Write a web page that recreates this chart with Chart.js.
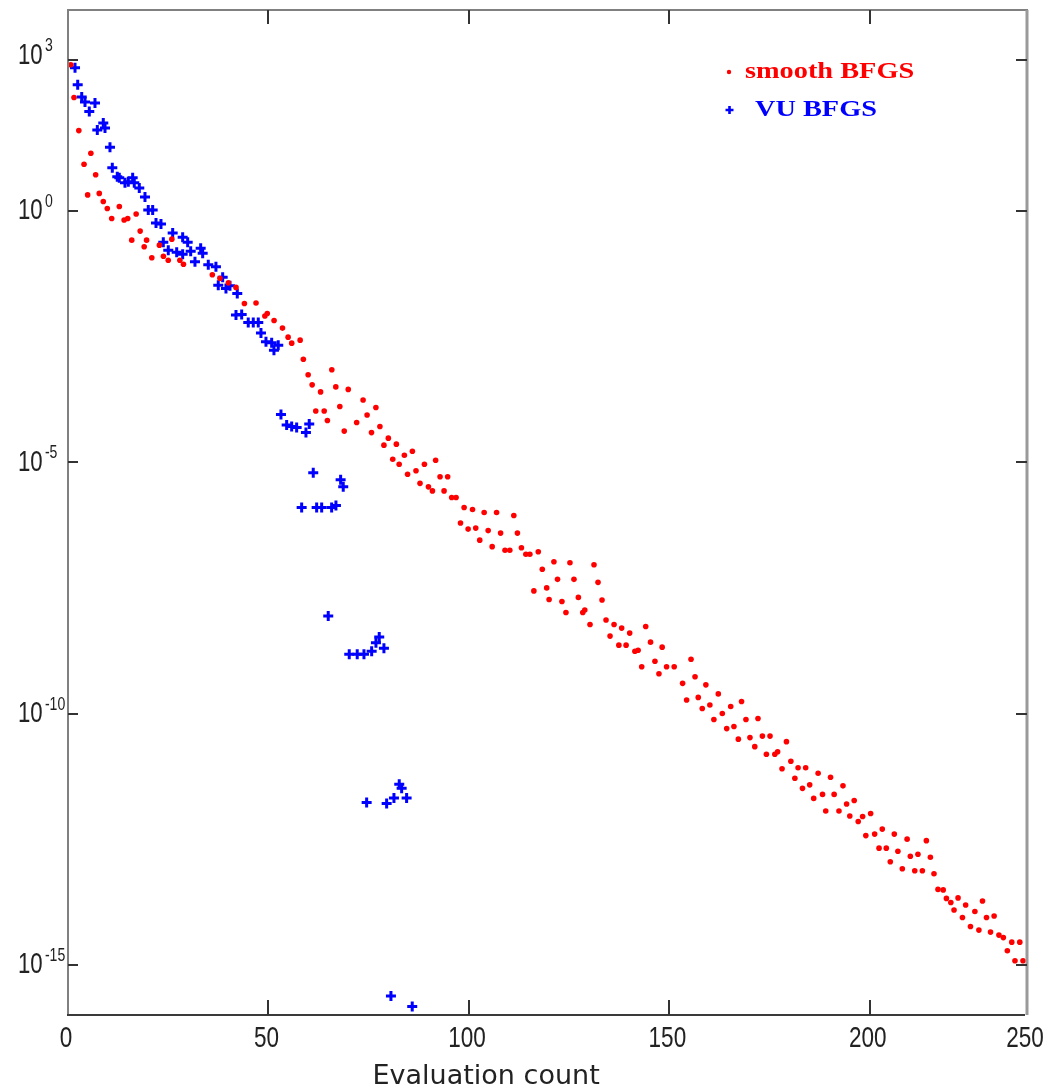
<!DOCTYPE html>
<html><head><meta charset="utf-8">
<script src="https://cdn.jsdelivr.net/npm/chart.js@4/dist/chart.umd.min.js"></script>
<style>html,body{margin:0;padding:0;background:#fff}canvas{display:block}</style>
</head><body>
<canvas id="c" width="1049" height="1089"></canvas>
<script>
// ---- data (y given as log10 of the plotted value) ----
const smoothX = [0.7,1.5,2.7,4.0,4.9,5.7,6.9,7.8,8.8,9.8,10.9,12.8,14.0,14.9,15.9,17.0,18.0,19.0,19.6,20.9,22.8,23.8,25.0,25.9,27.9,28.8,36.0,37.9,40.0,41.9,44.0,46.9,49.1,49.7,51.4,53.5,54.9,55.8,57.9,58.7,59.9,60.9,61.8,63.0,63.9,64.7,65.8,66.8,67.8,68.9,69.9,72.0,73.6,74.6,75.7,76.8,77.8,78.8,79.9,81.0,81.9,82.6,83.9,84.7,85.9,86.8,87.8,88.9,89.9,90.9,91.7,92.8,93.8,94.7,95.7,96.8,97.9,98.8,99.8,100.9,101.7,102.7,103.8,104.8,105.8,106.9,107.9,109.0,110.2,111.2,112.1,113.1,114.2,115.2,116.2,117.3,118.3,119.4,120.0,121.2,122.1,123.2,124.2,125.2,126.2,127.3,128.4,128.9,130.2,131.2,132.2,133.2,134.2,135.2,136.2,137.4,138.1,139.2,140.1,141.4,142.2,143.1,144.1,145.3,146.4,147.4,148.2,149.3,151.2,153.3,154.3,155.4,156.4,157.2,158.2,159.1,160.1,161.1,162.2,163.2,164.3,165.3,166.1,167.2,168.0,169.1,170.1,171.3,172.1,173.2,174.2,175.1,176.3,177.0,178.1,179.2,180.3,181.3,182.1,183.2,184.0,185.0,186.0,187.1,188.2,189.0,190.2,191.1,192.3,193.3,194.2,195.0,196.1,197.1,198.2,199.0,200.2,201.2,202.3,203.1,204.1,205.1,206.1,207.0,208.1,209.3,210.1,211.2,212.0,213.1,214.1,215.1,216.0,217.0,218.3,219.1,220.2,221.0,222.0,223.1,223.9,225.1,226.2,227.2,228.1,229.1,230.1,231.0,232.2,233.3,234.3,235.4,236.2,237.4,238.2];
const smoothExp = [2.91,2.26,1.60,0.93,0.32,1.15,0.72,0.35,0.19,0.05,-0.15,0.09,-0.18,-0.15,-0.58,-0.06,-0.40,-0.71,-0.58,-0.93,-0.68,-0.90,-0.98,-0.56,-0.98,-1.06,-1.27,-1.34,-1.43,-1.52,-1.84,-1.83,-2.09,-2.04,-2.18,-2.33,-2.51,-2.63,-2.57,-2.95,-3.26,-3.46,-3.98,-3.60,-3.98,-4.17,-3.16,-3.50,-3.89,-4.38,-3.55,-4.21,-3.76,-4.06,-4.41,-3.91,-4.29,-4.66,-4.52,-4.94,-4.64,-5.04,-4.86,-5.24,-4.78,-5.17,-5.42,-5.04,-5.49,-5.57,-4.96,-5.29,-5.57,-5.29,-5.70,-5.70,-6.21,-5.90,-6.33,-5.94,-6.31,-6.55,-6.00,-6.36,-6.68,-6.00,-6.41,-6.75,-6.75,-6.06,-6.41,-6.70,-6.83,-6.83,-7.56,-6.78,-7.13,-7.50,-7.73,-6.98,-7.33,-7.77,-7.99,-7.00,-7.33,-7.69,-7.99,-7.94,-8.23,-7.04,-7.39,-7.74,-8.14,-8.46,-8.23,-8.64,-8.30,-8.64,-8.40,-8.76,-8.74,-9.07,-8.27,-8.58,-8.96,-9.21,-8.68,-9.07,-9.07,-9.40,-9.73,-8.92,-9.27,-9.68,-9.90,-9.43,-9.83,-10.12,-9.61,-10.00,-10.30,-9.86,-10.26,-10.51,-9.76,-10.12,-10.48,-10.66,-10.10,-10.45,-10.81,-10.45,-10.81,-10.76,-11.10,-10.56,-10.95,-11.29,-11.08,-11.49,-11.08,-11.42,-11.69,-11.19,-11.61,-11.94,-11.27,-11.61,-11.94,-11.44,-11.80,-12.04,-11.73,-12.15,-12.05,-12.43,-11.99,-12.40,-12.68,-12.30,-12.68,-12.95,-12.40,-12.74,-13.09,-12.50,-12.84,-13.13,-12.80,-13.13,-12.53,-12.86,-13.19,-13.50,-13.51,-13.68,-13.76,-13.91,-13.67,-14.06,-13.81,-14.24,-13.94,-14.31,-13.73,-14.06,-14.35,-14.03,-14.41,-14.46,-14.72,-14.55,-14.92,-14.55,-14.92];
const vuX = [1.75,2.42,3.42,4.24,5.31,6.73,7.31,8.80,9.23,10.47,11.05,12.29,12.79,14.21,15.04,16.13,16.53,17.78,19.20,20.02,21.12,21.95,23.19,23.77,25.01,26.11,27.11,28.60,28.60,29.85,30.60,31.67,33.09,33.59,34.99,36.90,37.48,38.58,39.40,40.40,41.90,42.22,43.32,44.96,46.21,47.46,48.13,49.38,50.80,51.37,52.44,53.12,54.54,55.79,57.03,58.28,59.35,60.17,61.17,62.02,63.27,64.91,65.76,66.83,68.00,68.65,70.15,72.14,73.82,74.49,75.74,76.81,77.63,78.80,79.48,80.55,81.30,82.62,83.22,84.46,85.86];
const vuExp = [2.85,2.51,2.27,2.17,1.98,2.15,1.61,1.75,1.65,1.27,0.86,0.68,0.66,0.56,0.58,0.66,0.56,0.46,0.28,0.02,0.02,-0.24,-0.26,-0.62,-0.78,-0.44,-0.82,-0.52,-0.86,-0.62,-0.80,-1.01,-0.74,-0.84,-1.07,-1.11,-1.48,-1.32,-1.54,-1.49,-2.07,-1.64,-2.06,-2.22,-2.22,-2.22,-2.43,-2.60,-2.62,-2.77,-2.67,-4.05,-4.26,-4.29,-4.31,-5.90,-4.41,-4.24,-5.21,-5.90,-5.90,-8.06,-5.90,-5.86,-5.35,-5.49,-8.82,-8.82,-8.82,-11.77,-8.76,-8.59,-8.48,-8.70,-11.79,-15.62,-11.68,-11.41,-11.49,-11.68,-15.83];
const xTickValues = [0, 50, 100, 150, 200, 239.2];
const xTickLabels = ['0', '50', '100', '150', '200', '250'];
const yTickExponents = [3, 0, -5, -10, -15];
const seriesNames = ['smooth BFGS', 'VU BFGS'];
const axisTitle = 'Evaluation count';

const toPoints = (xs, es) => xs.map((x, i) => ({ x: x, y: Math.pow(10, es[i]) }));

const framePlugin = {
  id: 'frame',
  afterDatasetsDraw(chart) {
    const { ctx, chartArea: a, scales } = chart;
    const xs = scales.x, ys = scales.y;
    ctx.save();
    // frame
    ctx.lineCap = 'butt';
    ctx.strokeStyle = '#808080'; ctx.lineWidth = 2;
    ctx.beginPath(); ctx.moveTo(a.left - 1, a.top); ctx.lineTo(a.right + 1, a.top); ctx.stroke();
    ctx.beginPath(); ctx.moveTo(a.left, a.top); ctx.lineTo(a.left, a.bottom); ctx.stroke();
    ctx.lineWidth = 3; ctx.strokeStyle = '#9a9a9a';
    ctx.beginPath(); ctx.moveTo(a.right, a.top); ctx.lineTo(a.right, a.bottom); ctx.stroke();
    ctx.lineWidth = 2; ctx.strokeStyle = '#3a3a3a';
    ctx.beginPath(); ctx.moveTo(a.left - 1, a.bottom); ctx.lineTo(a.right - 2, a.bottom); ctx.stroke();
    // ticks
    ctx.strokeStyle = '#333'; ctx.lineWidth = 2;
    xTickValues.forEach(v => {
      if (v <= 0 || v >= xs.max) return;
      const px = Math.round(xs.getPixelForValue(v));
      ctx.beginPath(); ctx.moveTo(px, a.bottom); ctx.lineTo(px, a.bottom - 15); ctx.stroke();
      ctx.beginPath(); ctx.moveTo(px, a.top); ctx.lineTo(px, a.top + 14); ctx.stroke();
    });
    yTickExponents.forEach(e => {
      const py = Math.round(ys.getPixelForValue(Math.pow(10, e)));
      ctx.beginPath(); ctx.moveTo(a.left, py); ctx.lineTo(a.left + 10, py); ctx.stroke();
      ctx.beginPath(); ctx.moveTo(a.right, py); ctx.lineTo(a.right - 11, py); ctx.stroke();
    });
    // x tick labels
    ctx.fillStyle = '#222';
    ctx.textAlign = 'center'; ctx.textBaseline = 'middle';
    xTickValues.forEach((v, i) => {
      const px = xs.getPixelForValue(v);
      ctx.save(); ctx.translate(px - 2, a.bottom + 24); ctx.scale(0.75, 1);
      ctx.font = '30px "Liberation Sans", Arial, sans-serif';
      ctx.fillText(xTickLabels[i], 0, 0);
      ctx.restore();
    });
    // y tick labels: 10 with superscript exponent
    yTickExponents.forEach(e => {
      const py = ys.getPixelForValue(Math.pow(10, e)) + (e === 3 ? -5 : 0);
      ctx.save(); ctx.translate(18, py); ctx.scale(0.74, 1);
      ctx.textAlign = 'left'; ctx.textBaseline = 'middle';
      ctx.font = '30px "Liberation Sans", Arial, sans-serif';
      ctx.fillText('10', 0, 0);
      const w = ctx.measureText('10').width;
      ctx.font = '19px "Liberation Sans", Arial, sans-serif';
      ctx.fillText(String(e), w + 3, -9);
      ctx.restore();
    });
    // axis title
    ctx.save();
    ctx.textAlign = 'center'; ctx.textBaseline = 'alphabetic';
    ctx.font = '27px "DejaVu Sans", sans-serif';
    ctx.fillStyle = '#222';
    ctx.fillText(axisTitle, a.left + 0.436 * (a.right - a.left), a.bottom + 69);
    ctx.restore();
    // legend
    const lx = a.left + 661, ly = a.top + 62;
    ctx.fillStyle = '#ff0000';
    ctx.beginPath(); ctx.arc(lx, ly, 2.2, 0, Math.PI * 2); ctx.fill();
    ctx.strokeStyle = '#0000ff'; ctx.lineWidth = 2.6;
    ctx.beginPath(); ctx.moveTo(lx - 3.5, ly + 38); ctx.lineTo(lx + 4.5, ly + 38);
    ctx.moveTo(lx + 0.5, ly + 34); ctx.lineTo(lx + 0.5, ly + 42); ctx.stroke();
    ctx.textAlign = 'left'; ctx.textBaseline = 'middle';
    ctx.save(); ctx.translate(lx + 16, ly); ctx.scale(1.18, 1);
    ctx.font = 'bold 24px "Liberation Serif", "Times New Roman", serif';
    ctx.fillStyle = '#ff0000'; ctx.fillText(seriesNames[0], 0, 0);
    ctx.restore();
    ctx.save(); ctx.translate(lx + 26, ly + 38); ctx.scale(1.18, 1);
    ctx.font = 'bold 24px "Liberation Serif", "Times New Roman", serif';
    ctx.fillStyle = '#0000ff'; ctx.fillText(seriesNames[1], 0, 0);
    ctx.restore();
    ctx.restore();
  }
};

new Chart(document.getElementById('c'), {
  type: 'scatter',
  data: {
    datasets: [
      {
        label: seriesNames[0],
        data: toPoints(smoothX, smoothExp),
        pointStyle: 'circle', pointRadius: 2.8, pointBorderWidth: 0,
        backgroundColor: '#ff0000', borderColor: '#ff0000'
      },
      {
        label: seriesNames[1],
        data: toPoints(vuX, vuExp),
        pointStyle: 'cross', pointRadius: 5, pointBorderWidth: 3,
        backgroundColor: '#0000ff', borderColor: '#0000ff'
      }
    ]
  },
  options: {
    responsive: false, animation: false, devicePixelRatio: 1,
    layout: { padding: { left: 68, top: 10, right: 22, bottom: 74 } },
    plugins: { legend: { display: false }, tooltip: { enabled: false } },
    scales: {
      x: { type: 'linear', min: 0, max: 239.2, display: false },
      y: { type: 'logarithmic', min: 1e-16, max: 1e4, display: false }
    }
  },
  plugins: [framePlugin]
});
</script>
</body></html>
